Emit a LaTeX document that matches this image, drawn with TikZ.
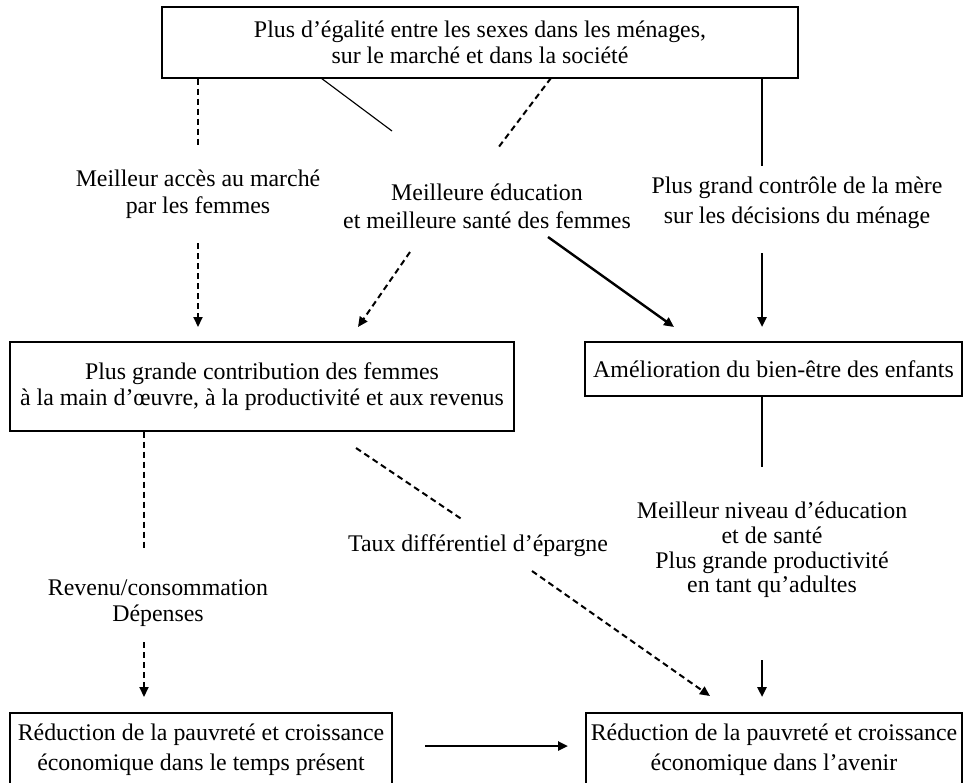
\documentclass[tikz,border=0pt]{standalone}
\usepackage{fontspec}
\setmainfont{Liberation Serif}
\usetikzlibrary{arrows.meta}
\newcommand\dfont{\fontsize{17.9pt}{20pt}\selectfont}
\newcommand\dfontwide{\fontsize{17.9pt}{22.5pt}\selectfont}
\newcommand\dfonttight{\fontsize{17.9pt}{18.4pt}\selectfont}
\begin{document}
\begin{tikzpicture}[x=0.75pt,y=-0.75pt,
 box/.style={draw,line width=1pt,inner sep=0pt,align=center,font=\dfont},
 lbl/.style={inner sep=0pt,align=center,font=\dfont},
 dsh/.style={line width=1.5pt,dash pattern=on 4.5pt off 3pt},
 thinline/.style={line width=0.85pt},
 thk/.style={line width=1.8pt},
 tip/.style={-{Triangle[length=7.5pt,width=6.75pt]}}]
\useasboundingbox (0,0) rectangle (963,782);

% boxes
\node[box,font=\fontsize{17.9pt}{19.5pt}\selectfont,minimum width=477pt,minimum height=53.25pt] (top) at (480,42.5)
  {Plus d’égalité entre les sexes dans les ménages,\\sur le marché et dans la société};
\node[box,minimum width=378pt,minimum height=66.75pt] (contrib) at (262,386.5)
  {Plus grande contribution des femmes\\à la main d’œuvre, à la productivité et aux revenus};
\node[box,minimum width=282.75pt,minimum height=40.5pt] (enf) at (773.5,369)
  {Amélioration du bien-être des enfants};
\node[box,font=\dfontwide,minimum width=286.5pt,minimum height=55.5pt] (present) at (201,750)
  {Réduction de la pauvreté et croissance\\économique dans le temps présent};
\node[box,font=\dfontwide,minimum width=282pt,minimum height=55.5pt] (avenir) at (774,750)
  {Réduction de la pauvreté et croissance\\économique dans l’avenir};

% labels
\node[lbl] (acces) at (198,194) {Meilleur accès au marché\\par les femmes};
\node[lbl,font=\fontsize{17.9pt}{21pt}\selectfont] (educ) at (487,206) {Meilleure éducation\\et meilleure santé des femmes};
\node[lbl,font=\dfontwide] (ctrl) at (797,203) {Plus grand contrôle de la mère\\sur les décisions du ménage};
\node[lbl,font=\dfonttight] (niveau) at (772,550) {Meilleur niveau d’éducation\\et de santé\\Plus grande productivité\\en tant qu’adultes};
\node[lbl] (revenu) at (158,603) {Revenu/consommation\\Dépenses};
\node[lbl] (taux) at (478,546) {Taux différentiel d’épargne};

% free ends
\coordinate (a1) at (198,145);
\coordinate (a2) at (198,243);
\coordinate (a3) at (198,327);
\coordinate (b0) at (321,78);
\coordinate (b1) at (392,131);
\coordinate (c0) at (551,78);
\coordinate (c1) at (498,148);
\coordinate (d0) at (410,252);
\coordinate (d1) at (358,327);
\coordinate (e0) at (548,237);
\coordinate (e1) at (674,327);
\coordinate (f1) at (762,166);
\coordinate (f2) at (762,253);
\coordinate (f3) at (762,327);
\coordinate (g1) at (762,467);
\coordinate (g2) at (762,660);
\coordinate (g3) at (762,697);
\coordinate (h1) at (144,548);
\coordinate (h2) at (144,642);
\coordinate (h3) at (144,697);
\coordinate (i0) at (356,448);
\coordinate (i1) at (463,520);
\coordinate (i2) at (532,571);
\coordinate (i3) at (710,696);
\coordinate (j0) at (425,746);
\coordinate (j1) at (568,746);

% connectors
\draw[dsh] (top.south -| a1) -- (a1);
\draw[dsh,tip] (a2) -- (a3);
\draw[thinline] (b0) -- (b1);
\draw[dsh] (c0) -- (c1);
\draw[dsh,tip] (d0) -- (d1);
\draw[thk,tip] (e0) -- (e1);
\draw[thinline] (top.south -| f1) -- (f1);
\draw[thk,tip] (f2) -- (f3);
\draw[thinline] (enf.south -| g1) -- (g1);
\draw[thk,tip] (g2) -- (g3);
\draw[dsh] (contrib.south -| h1) -- (h1);
\draw[dsh,tip] (h2) -- (h3);
\draw[dsh] (i0) -- (i1);
\draw[dsh,tip] (i2) -- (i3);
\draw[thk,tip] (j0) -- (j1);
\end{tikzpicture}
\end{document}
